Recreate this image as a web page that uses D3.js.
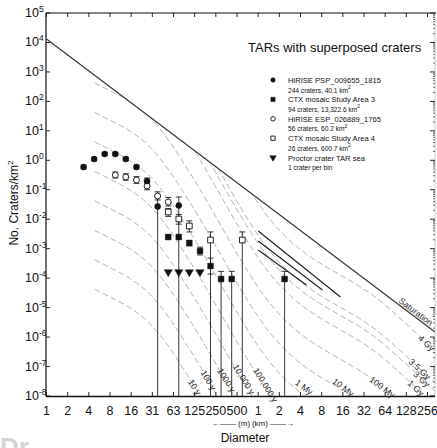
<!DOCTYPE html>
<html><head><meta charset="utf-8">
<script src="https://cdn.jsdelivr.net/npm/d3@7"></script>
<style>
body{margin:0;background:#fff}
svg{display:block}
text{font-family:"Liberation Sans",Arial,Helvetica,sans-serif;fill:#111}
</style>
</head><body>
<svg id="chart" width="437" height="448"></svg>
<script>
// ---------------- data ----------------
const xTickKm = [0.0009765625,0.001953125,0.00390625,0.0078125,0.015625,0.03125,0.0625,0.125,0.25,0.5,1,2,4,8,16,32,64,128,256];
const xTickLabels = ["1","2","4","8","16","31","63","125","250","500","1","2","4","8","16","32","64","128","256"];
const yTickExps = [5,4,3,2,1,0,-1,-2,-3,-4,-5,-6,-7,-8];

// HiRISE PSP_009655_1815 (filled circles), diameters in metres
const psp_D  = [3.29,4.65,6.57,9.29,13.1,18.6,26.3,37.2,74.3];
const psp_N  = [0.59,1.1,1.64,1.64,1.1,0.59,0.198,0.027,0.029];
const psp_lo = [0.51,0.96,1.45,1.45,0.96,0.51,0.16,0,0];
const psp_hi = [0.68,1.26,1.85,1.85,1.26,0.68,0.25,0.055,0.057];

// CTX mosaic Study Area 3 (filled squares)
const ctx3_D  = [52.6,74.3,105,149,210,297,420,2378];
const ctx3_N  = [0.00249,0.00249,0.00156,0.000834,0.000258,0.0000935,0.0000935,0.0000935];
const ctx3_lo = [0.00212,0.00212,0.00125,0.00061,0.000138,0,0,0];
const ctx3_hi = [0.0029,0.0029,0.0019,0.00113,0.00048,0.00017,0.00017,0.00017];

// HiRISE ESP_026889_1765 (open circles)
const esp_D  = [9.29,13.1,18.6,26.3,37.2,52.6];
const esp_N  = [0.317,0.271,0.214,0.134,0.0614,0.0384];
const esp_lo = [0.25,0.21,0.165,0.1,0.045,0.028];
const esp_hi = [0.4,0.35,0.28,0.18,0.085,0.055];

// CTX mosaic Study Area 4 (open squares)
const ctx4_D  = [52.6,74.3,105,210,595];
const ctx4_N  = [0.0176,0.0102,0.00589,0.00197,0.00197];
const ctx4_lo = [0.0125,0.0068,0.0037,0,0];
const ctx4_hi = [0.023,0.0145,0.0088,0.0037,0.0037];

// Proctor crater TAR sea (filled down-triangles)
const proc_D = [52.6,74.3,105,149];
const proc_N = [0.000161,0.000161,0.000161,0.000161];

// Saturation line (D km, N per km^2)
const sat_D = [0.0009765625,327];
const sat_N = [13100,1.49e-6];

// Isochron shape (1 Gy), D in km, N per km^2
const iso_D   = [0.0047,0.0079,0.0153,0.0294,0.0566,0.109,1.40,64.6,391];
const iso_1Gy = [4220,2260,956,274,38.8,3.44,1.62e-4,1.67e-7,3.2e-9];
const isoAges    = ["10 y","100 y","1000 y","10,000 y","100,000 y","1 My","10 My","100 My","1 Gy","3 Gy","3.5 Gy","4 Gy"];
const isoFactors = [1e-8,1e-7,1e-6,1e-5,1e-4,1e-3,1e-2,1e-1,1,3.07,5.8,72];

// solid reference segments (D km, N)
const seg_D0 = [1.0,1.0,1.0];
const seg_N0 = [0.00398,0.00182,0.0009];
const seg_D1 = [14.8,8.2,4.86];
const seg_N1 = [2.29e-5,3.98e-5,5.85e-5];

const legendTitle = "TARs with superposed craters";
const legendLines = [
  ["HiRISE PSP_009655_1815","244 craters, 40.1 km"],
  ["CTX mosaic Study Area 3","94 craters, 13,322.6 km"],
  ["HiRISE ESP_026889_1765","56 craters, 60.2 km"],
  ["CTX mosaic Study Area 4","26 craters, 600.7 km"],
  ["Proctor crater TAR sea","1 crater per bin"]
];

// ---------------- layout ----------------
const svg = d3.select("#chart");
const L=46, R=435, T=13, B=396;
const x = d3.scaleLog().base(2).domain([2**-10, 2**8]).range([46.5, 427.5]);
const y = d3.scaleLog().domain([1e-8,1e5]).range([B, T]);
const xm = d => x(d/1000);

const defs = svg.append("defs");
defs.append("clipPath").attr("id","plot").append("rect")
  .attr("x",L).attr("y",T).attr("width",R-L).attr("height",B-T);
defs.append("clipPath").attr("id","belowSat").append("polygon")
  .attr("points",[[x(sat_D[0]),y(sat_N[0])+1],[x(sat_D[1]),y(sat_N[1])+1],[R,B],[L,B]].map(p=>p.join(",")).join(" "));

// isochrons
const gIso = svg.append("g").attr("clip-path","url(#plot)")
  .append("g").attr("clip-path","url(#belowSat)");
const isoLine = d3.line().x(d=>x(d[0])).y(d=>y(d[1])).curve(d3.curveMonotoneX);
isoFactors.forEach(f=>{
  const pts = iso_D.map((d,i)=>[d, iso_1Gy[i]*f]);
  gIso.append("path").attr("d",isoLine(pts))
    .attr("fill","none").attr("stroke","#ababab").attr("stroke-width",0.9)
    .attr("stroke-dasharray","6,3");
});

// isochron labels
const labelTargetY = [387,380,380,379,385,387,387,387,388,379,369,343];
function isoPixY(px, f){
  const pts = iso_D.map((d,i)=>[x(d), y(iso_1Gy[i]*f)]);
  for(let i=0;i<pts.length-1;i++){
    if(px>=pts[i][0] && px<=pts[i+1][0]){
      const t=(px-pts[i][0])/(pts[i+1][0]-pts[i][0]);
      return [pts[i][1]+t*(pts[i+1][1]-pts[i][1]), (pts[i+1][1]-pts[i][1])/(pts[i+1][0]-pts[i][0])];
    }
  }
  return [null,null];
}
isoFactors.forEach((f,i)=>{
  let best=null;
  for(let px=L; px<=R+20; px+=0.25){
    const [py,sl]=isoPixY(px,f);
    if(py!==null && py>=labelTargetY[i]){ best=[px,py,sl]; break; }
  }
  if(!best) return;
  const ang = Math.atan(best[2])*180/Math.PI;
  const px = Math.min(best[0], 428);
  svg.append("text").attr("transform",`translate(${px},${best[1]}) rotate(${ang})`)
    .attr("text-anchor","middle").attr("dy","0.35em")
    .attr("font-size",8.8).style("fill","#2a2a2a").text(isoAges[i]);
});

// saturation line
const gPlot = svg.append("g").attr("clip-path","url(#plot)");
gPlot.append("line").attr("x1",x(sat_D[0])).attr("y1",y(sat_N[0]))
  .attr("x2",x(sat_D[1])).attr("y2",y(sat_N[1]))
  .attr("stroke","#333").attr("stroke-width",1.1);
{
  const sx1=x(sat_D[0]), sy1=y(sat_N[0]), sx2=x(sat_D[1]), sy2=y(sat_N[1]);
  const ang=Math.atan2(sy2-sy1,sx2-sx1)*180/Math.PI;
  const px=414, py=sy1+(px-sx1)*(sy2-sy1)/(sx2-sx1);
  svg.append("text").attr("transform",`translate(${px},${py-2}) rotate(${ang})`)
    .attr("text-anchor","middle").attr("font-size",8.8).style("fill","#2a2a2a").text("Saturation");
}

// solid segments
seg_D0.forEach((d,i)=>{
  gPlot.append("line").attr("x1",x(d)).attr("y1",y(seg_N0[i]))
    .attr("x2",x(seg_D1[i])).attr("y2",y(seg_N1[i]))
    .attr("stroke","#222").attr("stroke-width",1.2);
});

// error bars
function errBars(D,N,lo,hi){
  D.forEach((d,i)=>{
    const cx=xm(d);
    const yl = lo[i]>0 ? y(lo[i]) : B;
    const yh = y(hi[i]);
    gPlot.append("line").attr("x1",cx).attr("x2",cx).attr("y1",yh).attr("y2",yl)
      .attr("stroke","#222").attr("stroke-width",0.9);
    gPlot.append("line").attr("x1",cx-3).attr("x2",cx+3).attr("y1",yh).attr("y2",yh)
      .attr("stroke","#222").attr("stroke-width",0.9);
    if(lo[i]>0) gPlot.append("line").attr("x1",cx-3).attr("x2",cx+3).attr("y1",yl).attr("y2",yl)
      .attr("stroke","#222").attr("stroke-width",0.9);
  });
}
errBars(psp_D,psp_N,psp_lo,psp_hi);
errBars(esp_D,esp_N,esp_lo,esp_hi);
errBars(ctx3_D,ctx3_N,ctx3_lo,ctx3_hi);
errBars(ctx4_D,ctx4_N,ctx4_lo,ctx4_hi);

// markers
const sym = {
  fcirc: d3.symbol().type(d3.symbolCircle).size(28),
  sq: d3.symbol().type(d3.symbolSquare).size(32),
  tri: d3.symbol().type(d3.symbolTriangle).size(28)
};
const legSym = {
  fcirc: d3.symbol().type(d3.symbolCircle).size(16),
  sq: d3.symbol().type(d3.symbolSquare).size(18),
  tri: d3.symbol().type(d3.symbolTriangle).size(18)
};
function markers(D,N,type,filled){
  D.forEach((d,i)=>{
    gPlot.append("path").attr("d",sym[type]())
      .attr("transform",`translate(${xm(d)},${y(N[i])})${type==="tri"?" rotate(180)":""}`)
      .attr("fill",filled?"#111":"#fff").attr("stroke","#111").attr("stroke-width",filled?0.5:0.9);
  });
}
markers(esp_D,esp_N,"fcirc",false);
markers(ctx4_D,ctx4_N,"sq",false);
markers(psp_D,psp_N,"fcirc",true);
markers(ctx3_D,ctx3_N,"sq",true);
markers(proc_D,proc_N,"tri",true);

// axes frame
const ax = svg.append("g").attr("stroke","#111");
ax.append("line").attr("x1",L).attr("x2",L).attr("y1",T).attr("y2",B+0.5).attr("stroke-width",1.2);
ax.append("line").attr("x1",L).attr("x2",R).attr("y1",B+0.5).attr("y2",B+0.5).attr("stroke-width",1.6);
ax.append("line").attr("x1",L).attr("x2",R+1).attr("y1",T).attr("y2",T).attr("stroke-width",1.2);
ax.append("line").attr("x1",R).attr("x2",R).attr("y1",T).attr("y2",B).attr("stroke","#aaa").attr("stroke-width",0.6);

xTickKm.forEach(v=>{
  ax.append("line").attr("x1",x(v)).attr("x2",x(v)).attr("y1",B).attr("y2",B-4).attr("stroke-width",0.9);
  ax.append("line").attr("x1",x(v)).attr("x2",x(v)).attr("y1",T).attr("y2",T+4).attr("stroke-width",0.9);
});
yTickExps.forEach(e=>{
  const v=Math.pow(10,e), yy=y(v);
  ax.append("line").attr("x1",L).attr("x2",L+4).attr("y1",yy).attr("y2",yy).attr("stroke-width",0.9);
  ax.append("line").attr("x1",R).attr("x2",R-5).attr("y1",yy).attr("y2",yy).attr("stroke-width",0.9);
  if(e>-8) for(let m=2;m<=9;m++){
    const ym=y(v/10*m);
    ax.append("line").attr("x1",R).attr("x2",R-2).attr("y1",ym).attr("y2",ym).attr("stroke-width",0.6);
  }
});

// tick labels
xTickKm.forEach((v,i)=>{
  svg.append("text").attr("x",x(v)).attr("y",415).attr("text-anchor","middle")
    .attr("font-size",12.5).text(xTickLabels[i]);
});
yTickExps.forEach(e=>{
  const t = svg.append("text").attr("x",25).attr("y",y(Math.pow(10,e))+4).attr("font-size",12.5);
  t.append("tspan").text("10");
  t.append("tspan").attr("dy",-5).attr("font-size",8.5).text(e);
});

// axis titles
svg.append("text").attr("transform","translate(18,203) rotate(-90)").attr("text-anchor","middle")
  .attr("font-size",12).text("No. Craters/km").append("tspan").attr("dy",-5).attr("font-size",8).text("2");
svg.append("text").attr("x",245).attr("y",442).attr("text-anchor","middle").attr("font-size",12).text("Diameter");
svg.append("text").attr("x",231).attr("y",426).attr("text-anchor","middle").attr("font-size",8).text("←—— (m)");
svg.append("text").attr("x",273).attr("y",426).attr("text-anchor","middle").attr("font-size",8).text("(km) ——→");

// legend
svg.append("text").attr("x",248).attr("y",52).attr("font-size",13).text(legendTitle);
const legTypes = [["fcirc",true],["sq",true],["fcirc",false],["sq",false],["tri",true]];
legendLines.forEach((ln,i)=>{
  const yy = 80 + i*19.4;
  svg.append("path").attr("d",legSym[legTypes[i][0]]())
    .attr("transform",`translate(273,${yy})${legTypes[i][0]==="tri"?" rotate(180)":""}`)
    .attr("fill",legTypes[i][1]?"#111":"#fff").attr("stroke","#111").attr("stroke-width",legTypes[i][1]?0.5:0.9);
  svg.append("text").attr("x",288).attr("y",yy+3).attr("font-size",7.6).text(ln[0]);
  const t2=svg.append("text").attr("x",288).attr("y",yy+12.5).attr("font-size",6.6).text(ln[1]);
  if(i<4) t2.append("tspan").attr("dy",-3.5).attr("font-size",5).text("2");
});

// faint caption fragment at bottom-left (cut off by the page edge in the reference)
svg.append("text").attr("x",0).attr("y",456).attr("font-size",26).attr("font-weight","bold")
  .style("fill","#d4d4d4").text("Dr");
</script>
</body></html>
